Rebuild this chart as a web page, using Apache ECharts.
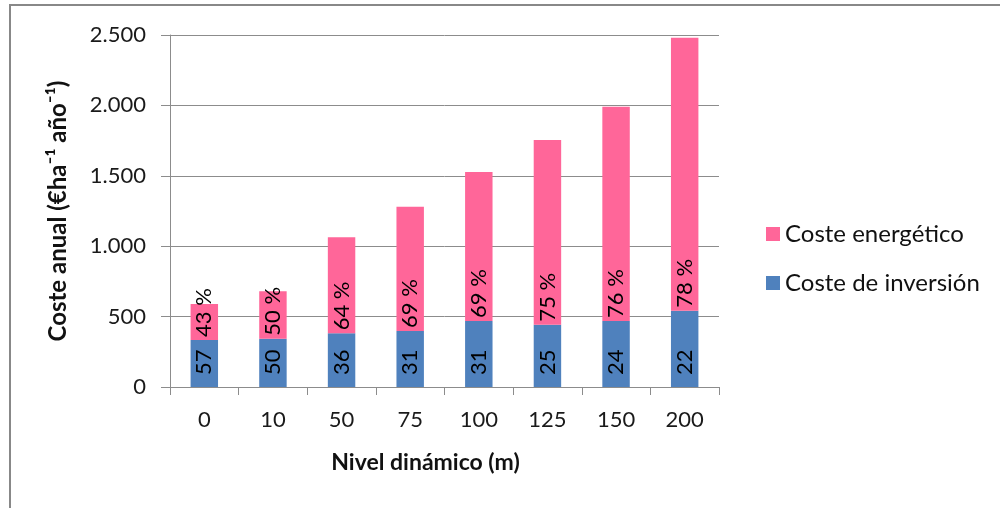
<!DOCTYPE html>
<html>
<head>
<meta charset="utf-8">
<script src="https://cdn.jsdelivr.net/npm/echarts@6/dist/echarts.min.js"></script>
<style>
  html, body { margin: 0; padding: 0; background: #fff; }
  #chart { width: 1000px; height: 508px; }
</style>
</head>
<body>
<div id="chart"></div>
<script>
// Annual cost per hectare, split by component, for each dynamic water level
const categories = ['0', '10', '50', '75', '100', '125', '150', '200'];
const costeInversion = [334, 343, 381, 398, 469, 443, 469, 542];
const costeEnergetico = [255, 337, 682, 883, 1058, 1311, 1522, 1939];
const yTicks = [0, 500, 1000, 1500, 2000, 2500];

const BLUE = '#4F81BD';
const PINK = '#FF6699';
const GRID_GREY = '#8c8c8c';
const FONT = 'Lato, "Open Sans", sans-serif';

const totals = categories.map((_, i) => costeInversion[i] + costeEnergetico[i]);
const share = (arr, i) => Math.round(arr[i] / totals[i] * 100);

const fmtThousands = v => String(v).replace(/\B(?=(\d{3})+(?!\d))/g, '.');

const chart = echarts.init(document.getElementById('chart'), null, { renderer: 'canvas' });

const labelBase = {
  show: true,
  position: 'insideBottom',
  rotate: 90,
  align: 'left',
  verticalAlign: 'middle',
  color: '#000',
  fontFamily: FONT,
  fontSize: 22
};

chart.setOption({
  animation: false,
  backgroundColor: '#fff',
  grid: { left: 170, right: 281, top: 35, bottom: 121 },
  legend: {
    orient: 'vertical',
    left: 761,
    top: 217,
    itemWidth: 14,
    itemHeight: 14,
    itemGap: 25,
    icon: 'rect',
    data: ['Coste energético', 'Coste de inversión'],
    textStyle: { fontFamily: FONT, fontSize: 24, color: '#111', padding: [0, 0, 0, 0] }
  },
  xAxis: {
    type: 'category',
    data: categories,
    name: 'Nivel dinámico (m)',
    nameLocation: 'middle',
    nameGap: 64,
    nameTextStyle: { fontFamily: FONT, fontSize: 23, fontWeight: 'bold', color: '#111', padding: [0, 38, 0, 0] },
    axisLine: { lineStyle: { color: GRID_GREY, width: 1 } },
    axisTick: { show: true, length: 8, lineStyle: { color: GRID_GREY } },
    axisLabel: { margin: 22, fontFamily: FONT, fontSize: 22, color: '#1a1a1a' }
  },
  yAxis: {
    type: 'value',
    min: yTicks[0],
    max: yTicks[yTicks.length - 1],
    interval: yTicks[1] - yTicks[0],
    name: 'Coste anual (€ha⁻¹ año⁻¹)',
    nameLocation: 'middle',
    nameGap: 100,
    nameMoveOverlap: false,
    nameTextStyle: { fontFamily: FONT, fontSize: 24, fontWeight: 'bold', color: '#111' },
    axisLine: { show: true, lineStyle: { color: GRID_GREY, width: 1 } },
    axisTick: { show: true, length: 9, lineStyle: { color: GRID_GREY } },
    axisLabel: { margin: 24, fontFamily: FONT, fontSize: 22, color: '#1a1a1a', formatter: fmtThousands },
    splitLine: { lineStyle: { color: GRID_GREY, width: 1 } }
  },
  series: [
    {
      name: 'Coste de inversión',
      type: 'bar',
      stack: 'coste',
      barWidth: '40%',
      data: costeInversion,
      itemStyle: { color: BLUE },
      label: Object.assign({}, labelBase, {
        distance: 12,
        formatter: p => String(share(costeInversion, p.dataIndex))
      })
    },
    {
      name: 'Coste energético',
      type: 'bar',
      stack: 'coste',
      barWidth: '40%',
      data: costeEnergetico,
      itemStyle: { color: PINK },
      label: Object.assign({}, labelBase, {
        distance: 3,
        formatter: p => share(costeEnergetico, p.dataIndex) + ' %'
      })
    }
  ],
  graphic: [
    { type: 'line', shape: { x1: 10, y1: 5, x2: 1000, y2: 5 }, style: { stroke: '#888', lineWidth: 2 } },
    { type: 'line', shape: { x1: 10, y1: 4, x2: 10, y2: 508 }, style: { stroke: '#888', lineWidth: 2 } }
  ]
});
</script>
</body>
</html>
